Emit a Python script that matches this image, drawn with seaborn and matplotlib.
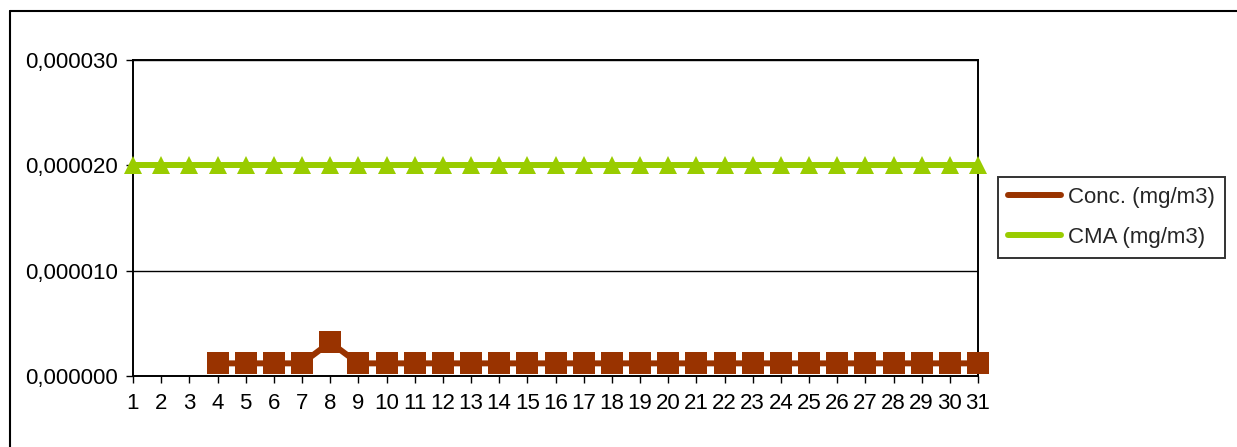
import matplotlib
matplotlib.use("Agg")
import matplotlib.pyplot as plt
from matplotlib.lines import Line2D
from matplotlib.ticker import FuncFormatter
import seaborn as sns
import numpy as np
import pandas as pd

days = list(range(1, 32))
conc = [np.nan, np.nan, np.nan] + [0.0000012] * 4 + [0.0000032] + [0.0000012] * 23
cma = [0.00002] * 31
conc_label = "Conc. (mg/m3)"
cma_label = "CMA (mg/m3)"
conc_color = "#993300"
cma_color = "#99CC00"

df_conc = pd.DataFrame({"day": days, "value": conc}).dropna()
df_cma = pd.DataFrame({"day": days, "value": cma})

sns.set_style("white")
plt.rcParams["font.family"] = ["Liberation Sans", "DejaVu Sans"]

W, H = 1237, 447
fs = 16
fig = plt.figure(figsize=(W / 100, H / 100), dpi=100)
ax = fig.add_axes([133 / W, (H - 376) / H, (978 - 133) / W, (376 - 60) / H])

sns.lineplot(data=df_cma, x="day", y="value", ax=ax, color=cma_color, linewidth=4.3,
             marker="^", markersize=13, markeredgewidth=0, clip_on=False, zorder=3)
sns.lineplot(data=df_conc, x="day", y="value", ax=ax, color=conc_color, linewidth=4.3,
             marker="s", markersize=16, markeredgewidth=0, clip_on=False, zorder=4)

ax.set_xlim(1, 31)
ax.set_ylim(0, 0.00003)
ax.set_xticks(days)
ax.set_yticks([0, 0.00001, 0.00002, 0.00003])
ax.yaxis.set_major_formatter(FuncFormatter(lambda v, p: f"{v:.6f}".replace(".", ",")))
ax.set_xlabel("")
ax.set_ylabel("")
ax.grid(axis="y", color="black", linewidth=1)
ax.grid(axis="x", visible=False)
for s in ax.spines.values():
    s.set_color("black")
    s.set_linewidth(1.4)
ax.tick_params(axis="both", direction="out", length=5, width=1, color="black",
               labelsize=fs, labelcolor="black", bottom=True, left=True)
ax.tick_params(axis="y", pad=6)
ax.tick_params(axis="x", pad=7)

handles = [
    Line2D([], [], color=conc_color, linewidth=4.3, marker="s", markersize=5, markeredgewidth=0),
    Line2D([], [], color=cma_color, linewidth=4.3, marker="^", markersize=5, markeredgewidth=0),
]
leg = fig.legend(handles, [conc_label, cma_label], loc="upper left",
                 bbox_to_anchor=(998 / W, 1 - 177 / H), bbox_transform=fig.transFigure,
                 fontsize=fs, frameon=True, fancybox=False, handlelength=2.4,
                 handletextpad=0.3, borderpad=0.45, labelspacing=0.85, borderaxespad=0)
leg.get_frame().set_edgecolor("black")
leg.get_frame().set_linewidth(1.4)

# outer chart border (only top and left visible in the image)
fig.add_artist(Line2D([10 / W, 10 / W], [-0.1, 1 - 11 / H], transform=fig.transFigure,
                      color="black", linewidth=1.5))
fig.add_artist(Line2D([10 / W, 1.1], [1 - 11 / H, 1 - 11 / H], transform=fig.transFigure,
                      color="black", linewidth=1.5))

fig.savefig("out.png", dpi=100)
plt.close(fig)
